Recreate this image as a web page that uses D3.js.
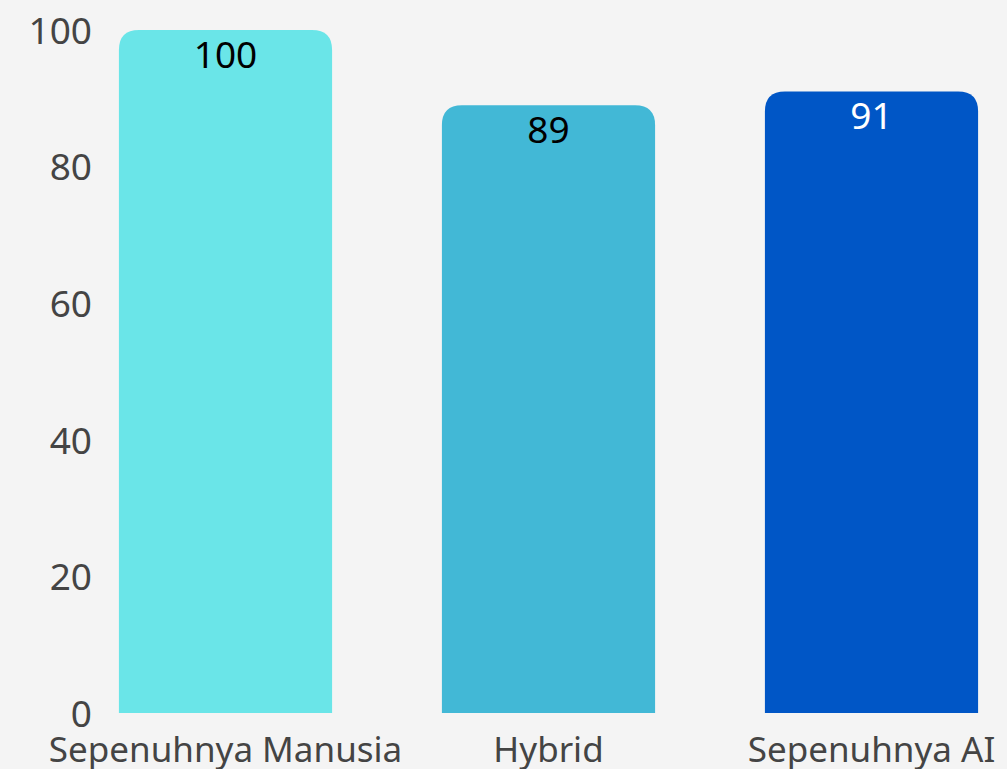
<!DOCTYPE html>
<html>
<head>
<meta charset="utf-8">
<script src="https://cdn.jsdelivr.net/npm/d3@7"></script>
<style>
  html, body { margin: 0; padding: 0; background: #f4f4f4; }
  svg { display: block; }
</style>
</head>
<body>
<svg id="chart" width="1007" height="769"></svg>
<script>
// Data
const categories = ["Sepenuhnya Manusia", "Hybrid", "Sepenuhnya AI"];
const values = [100, 89, 91];
const barColors = ["#6ae5e8", "#42b8d6", "#0056c6"];
const labelColors = ["#000000", "#000000", "#ffffff"];
const yTicks = [0, 20, 40, 60, 80, 100];

const W = 1007, H = 769;
const FONT = "'Noto Sans', 'Open Sans', sans-serif";
const svg = d3.select("#chart");

svg.append("rect").attr("width", W).attr("height", H).attr("fill", "#f4f4f4");

const x = d3.scaleBand()
  .domain(categories)
  .range([64, 1033])
  .paddingInner(0.34)
  .paddingOuter(0.17);

const y = d3.scaleLinear().domain([0, 100]).range([713, 30]);

// Y axis: labels only
const yAxis = d3.axisLeft(y).tickValues(yTicks).tickSize(0).tickPadding(0);
const gy = svg.append("g").attr("transform", "translate(92,0)").call(yAxis);
gy.select(".domain").remove();
gy.selectAll("text")
  .attr("font-family", FONT)
  .attr("font-size", 37)
  .attr("fill", "#444444")
  .attr("dy", "0.36em");

// X axis: category labels only
const xAxis = d3.axisBottom(x).tickSize(0).tickPadding(0);
const gx = svg.append("g").attr("transform", "translate(0,762)").call(xAxis);
gx.select(".domain").remove();
gx.selectAll("text")
  .attr("font-family", FONT)
  .attr("font-size", 35)
  .attr("fill", "#444444")
  .attr("dy", 0)
  .attr("y", 0);

// Bars with rounded top corners
const r = 20;
function topRoundedBar(x0, y0, w, h) {
  const rr = Math.min(r, w / 2, h);
  return `M${x0},${y0 + h}` +
    `V${y0 + rr}` +
    `Q${x0},${y0} ${x0 + rr},${y0}` +
    `H${x0 + w - rr}` +
    `Q${x0 + w},${y0} ${x0 + w},${y0 + rr}` +
    `V${y0 + h}Z`;
}

const data = categories.map((c, i) => ({ c, v: values[i], i }));

svg.append("g").selectAll("path")
  .data(data)
  .join("path")
  .attr("d", d => topRoundedBar(x(d.c), y(d.v), x.bandwidth(), y(0) - y(d.v)))
  .attr("fill", d => barColors[d.i]);

// Value labels inside bar tops
svg.append("g").selectAll("text")
  .data(data)
  .join("text")
  .attr("x", d => x(d.c) + x.bandwidth() / 2)
  .attr("y", d => y(d.v) + 38)
  .attr("text-anchor", "middle")
  .attr("font-family", FONT)
  .attr("font-size", 37)
  .attr("fill", d => labelColors[d.i])
  .text(d => d.v);
</script>
</body>
</html>
